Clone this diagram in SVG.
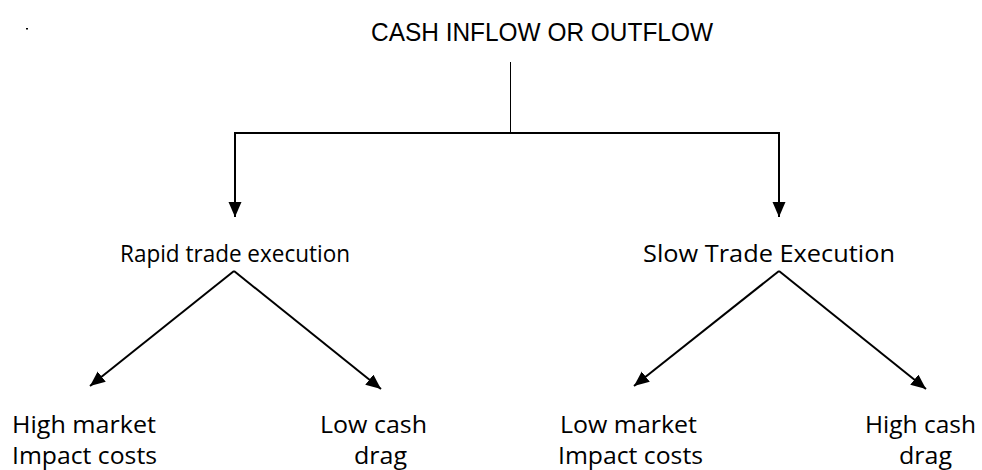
<svg xmlns="http://www.w3.org/2000/svg" width="982" height="470" viewBox="0 0 982 470">
<defs>
<marker id="ah" markerUnits="userSpaceOnUse" markerWidth="18" markerHeight="14" refX="15" refY="6.5" orient="auto">
<path d="M0,0 L15,6.5 L0,13 Z" fill="#000"/>
</marker>
<style>
.t{font-family:"Open Sans","Liberation Sans",sans-serif;font-size:24px;fill:#000}
.h{font-family:"Liberation Sans","Open Sans",sans-serif;font-size:26px;fill:#000}
.c{fill:none;stroke:#000;stroke-width:2}
.a{fill:none;stroke:#000;stroke-width:2;marker-end:url(#ah)}
</style>
</defs>
<rect width="982" height="470" fill="#fff"/>
<rect x="26" y="28" width="2" height="1.5" fill="#000"/>
<g id="connectors">
<line x1="510.5" y1="62" x2="510.5" y2="133" stroke="#000" stroke-width="1"/>
<polyline class="c" points="235,216 235,133 779,133 779,216"/>
<line class="a" x1="235" y1="140" x2="235" y2="217"/>
<line class="a" x1="779" y1="140" x2="779" y2="217"/>
<line class="a" x1="234" y1="271" x2="90" y2="386"/>
<line class="a" x1="234" y1="271" x2="381" y2="389"/>
<line class="a" x1="779" y1="271" x2="634" y2="386"/>
<line class="a" x1="779" y1="271" x2="926" y2="389"/>
</g>
<g id="root"><text class="h" x="371" y="41" textLength="342" lengthAdjust="spacingAndGlyphs">CASH INFLOW OR OUTFLOW</text></g>
<g id="rapid"><text class="t" x="120" y="262" textLength="230" lengthAdjust="spacingAndGlyphs">Rapid trade execution</text></g>
<g id="slow"><text class="t" x="643" y="262" textLength="252" lengthAdjust="spacingAndGlyphs">Slow Trade Execution</text></g>
<g id="highmarket"><text class="t" x="12" y="433" textLength="144" lengthAdjust="spacingAndGlyphs">High market</text><text class="t" x="12" y="464" textLength="145" lengthAdjust="spacingAndGlyphs">Impact costs</text></g>
<g id="lowcash"><text class="t" x="320" y="433" textLength="107" lengthAdjust="spacingAndGlyphs">Low cash</text><text class="t" x="354" y="464" textLength="53" lengthAdjust="spacingAndGlyphs">drag</text></g>
<g id="lowmarket"><text class="t" x="560" y="433" textLength="137" lengthAdjust="spacingAndGlyphs">Low market</text><text class="t" x="558" y="464" textLength="145" lengthAdjust="spacingAndGlyphs">Impact costs</text></g>
<g id="highcash"><text class="t" x="865" y="433" textLength="111" lengthAdjust="spacingAndGlyphs">High cash</text><text class="t" x="899" y="464" textLength="53" lengthAdjust="spacingAndGlyphs">drag</text></g>
</svg>
